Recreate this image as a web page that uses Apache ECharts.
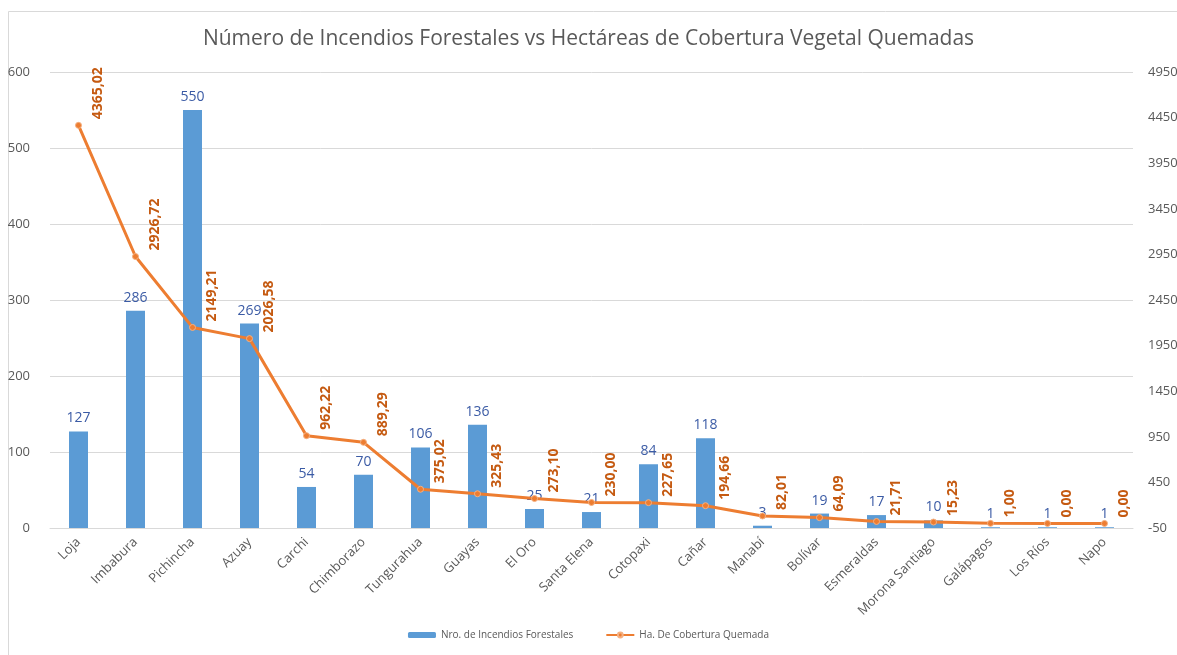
<!DOCTYPE html>
<html>
<head>
<meta charset="utf-8">
<title>Incendios Forestales</title>
<script src="https://cdn.jsdelivr.net/npm/echarts@6/dist/echarts.min.js"></script>
<style>
    html, body { margin: 0; padding: 0; background: #ffffff; }
    #chart { width: 1177px; height: 655px; }
</style>
</head>
<body>
<div id="chart"></div>
<script>
// provincias
const provincias = ['Loja', 'Imbabura', 'Pichincha', 'Azuay', 'Carchi', 'Chimborazo', 'Tungurahua', 'Guayas', 'El Oro',
    'Santa Elena', 'Cotopaxi', 'Cañar', 'Manabí', 'Bolívar', 'Esmeraldas', 'Morona Santiago', 'Galápagos', 'Los Ríos', 'Napo'];
// número de incendios
const incendios = [127, 286, 550, 269, 54, 70, 106, 136, 25, 21, 84, 118, 3, 19, 17, 10, 1, 1, 1];
// hectáreas quemadas
const hectareas = [4365.02, 2926.72, 2149.21, 2026.58, 962.22, 889.29, 375.02, 325.43, 273.10, 230.00, 227.65, 194.66,
    82.01, 64.09, 21.71, 15.23, 1.00, 0.00, 0.00];

const fmtComa = v => v.toFixed(2).replace('.', ',');

const chart = echarts.init(document.getElementById('chart'));

const option = {
    backgroundColor: '#ffffff',
    animation: false,
    textStyle: { fontFamily: '"Open Sans", "Liberation Sans", sans-serif' },
    graphic: [{
        type: 'rect',
        shape: { x: 8.5, y: 11.5, width: 1300, height: 800 },
        style: { fill: 'none', stroke: '#d9d9d9', lineWidth: 1 },
        silent: true
    }],
    title: {
        text: 'Número de Incendios Forestales vs Hectáreas de Cobertura Vegetal Quemadas',
        left: 'center',
        top: 24,
        textStyle: { fontSize: 21, fontWeight: 'normal', color: '#595959' }
    },
    legend: {
        bottom: 10,
        left: 'center',
        itemWidth: 28,
        itemHeight: 6,
        itemGap: 32,
        textStyle: { fontSize: 10, color: '#595959' },
        data: ['Nro. de Incendios Forestales', 'Ha. De Cobertura Quemada']
    },
    grid: { left: 50, right: 44, top: 72, bottom: 127, containLabel: false, outerBoundsMode: 'none' },
    xAxis: {
        type: 'category',
        data: provincias,
        axisLine: { lineStyle: { color: '#d9d9d9' } },
        axisTick: { show: false },
        axisLabel: { rotate: 45, fontSize: 13, color: '#595959', margin: 12, interval: 0 }
    },
    yAxis: [{
        type: 'value',
        min: 0,
        max: 600,
        interval: 100,
        axisLine: { show: false },
        axisTick: { show: false },
        axisLabel: { fontSize: 13, color: '#595959', margin: 20 },
        splitLine: { lineStyle: { color: '#d9d9d9' } }
    }, {
        type: 'value',
        min: -50,
        max: 4950,
        interval: 500,
        position: 'right',
        axisLine: { show: false },
        axisTick: { show: false },
        axisLabel: { fontSize: 13, color: '#595959', margin: 15, formatter: v => String(v) },
        splitLine: { show: false }
    }],
    series: [{
        name: 'Nro. de Incendios Forestales',
        type: 'bar',
        data: incendios,
        barWidth: 19,
        itemStyle: { color: '#5b9bd5' },
        label: {
            show: true,
            position: 'top',
            distance: 6,
            fontSize: 14,
            color: '#3b5ba5'
        }
    }, {
        name: 'Ha. De Cobertura Quemada',
        type: 'line',
        yAxisIndex: 1,
        data: hectareas,
        symbol: 'circle',
        symbolSize: 6,
        lineStyle: { color: '#ed7d31', width: 3 },
        itemStyle: { color: '#ed7d31', borderColor: '#f4b183', borderWidth: 1 },
        label: {
            show: true,
            position: 'right',
            distance: 16,
            rotate: 90,
            align: 'left',
            verticalAlign: 'middle',
            offset: [6, 0],
            fontSize: 14,
            fontWeight: 'bold',
            color: '#c55a11',
            formatter: p => fmtComa(p.value)
        }
    }]
};

chart.setOption(option);
</script>
</body>
</html>
